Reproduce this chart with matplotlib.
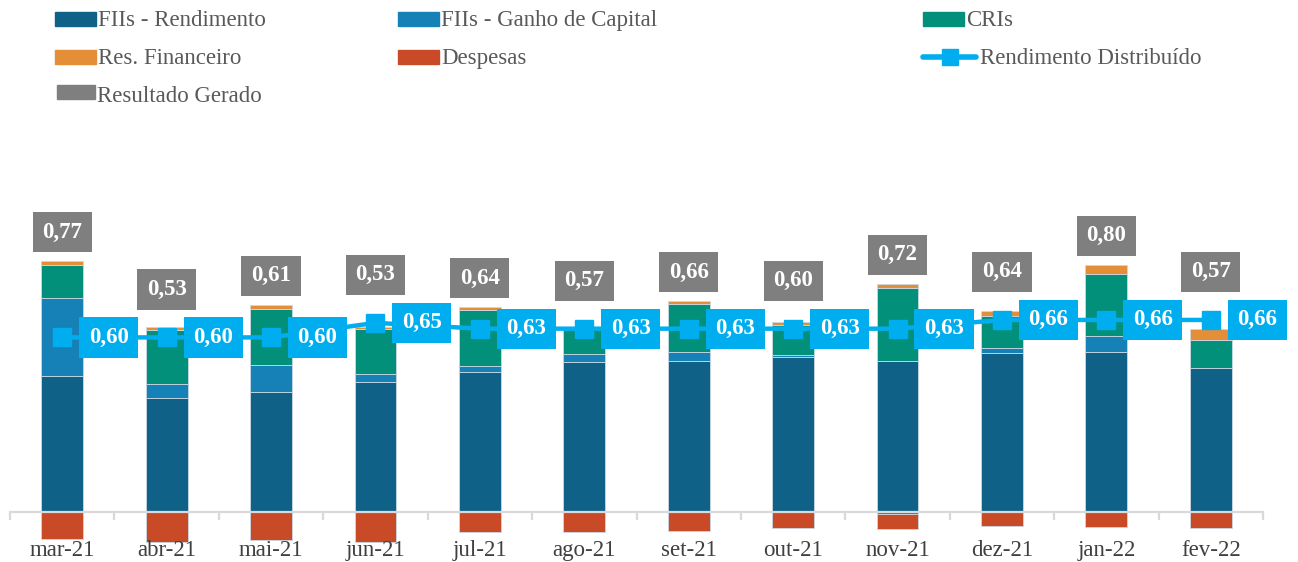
import matplotlib
matplotlib.use("Agg")
import matplotlib.pyplot as plt
import matplotlib.patches as mpatches
from matplotlib.lines import Line2D
import numpy as np

plt.rcParams["font.family"] = ["Liberation Serif", "DejaVu Serif"]

# ── data ─────────────────────────────────────────────────────
months = ["mar-21", "abr-21", "mai-21", "jun-21", "jul-21", "ago-21",
          "set-21", "out-21", "nov-21", "dez-21", "jan-22", "fev-22"]
fii_rend = [0.467, 0.393, 0.411, 0.448, 0.482, 0.516, 0.520, 0.532, 0.520, 0.545, 0.551, 0.494]
fii_ganho = [0.267, 0.047, 0.093, 0.025, 0.021, 0.027, 0.031, 0.008, -0.007, 0.017, 0.053, 0.0]
cris = [0.115, 0.186, 0.195, 0.155, 0.192, 0.085, 0.165, 0.101, 0.251, 0.111, 0.215, 0.098]
res_fin = [0.013, 0.010, 0.013, 0.007, 0.009, 0.005, 0.008, 0.012, 0.013, 0.018, 0.030, 0.036]
despesas = [-0.093, -0.102, -0.096, -0.102, -0.069, -0.069, -0.065, -0.054, -0.050, -0.048, -0.052, -0.054]
resultado = [0.77, 0.53, 0.61, 0.53, 0.64, 0.57, 0.66, 0.60, 0.72, 0.64, 0.80, 0.57]
rend_dist = [0.60, 0.60, 0.60, 0.65, 0.63, 0.63, 0.63, 0.63, 0.63, 0.66, 0.66, 0.66]

# ── styles ───────────────────────────────────────────────────
C_REND = "#0F6188"
C_GANHO = "#1581B6"
C_CRI = "#02907A"
C_FIN = "#E48F37"
C_DESP = "#C94A26"
C_GRAY = "#7F7F7F"
C_LINE = "#00AEEF"
C_TEXT = "#595959"

W, H = 1298, 562
fig = plt.figure(figsize=(W / 100, H / 100), dpi=100)
fig.patch.set_facecolor("white")

# axes placed in pixel terms: baseline ~512px, x from 10 to 1263
ax_left, ax_right, ax_top, ax_bot = 10, 1263, 180, 545
ax = fig.add_axes([ax_left / W, (H - ax_bot) / H,
                   (ax_right - ax_left) / W, (ax_bot - ax_top) / H])
ax.set_xlim(-0.5, len(months) - 0.5)
ax.set_ylim(-0.1134, 1.1409)
ax.set_axisbelow(False)

x = np.arange(len(months))
bw = 0.40
series = [(fii_rend, C_REND), (fii_ganho, C_GANHO), (cris, C_CRI),
          (res_fin, C_FIN), (despesas, C_DESP)]
pos_base = np.zeros(len(months))
neg_base = np.zeros(len(months))
for vals, col in series:
    v = np.array(vals)
    bottom = np.where(v >= 0, pos_base, neg_base)
    ax.bar(x, v, bw, bottom=bottom, color=col, edgecolor="#C9D8E3",
           linewidth=0.6, zorder=2)
    pos_base = pos_base + np.where(v >= 0, v, 0)
    neg_base = neg_base + np.where(v < 0, v, 0)

# rendimento distribuido line
rd = np.array(rend_dist)
ax.plot(x, rd, color=C_LINE, lw=3.2, marker="s", markersize=13,
        markerfacecolor=C_LINE, markeredgecolor=C_LINE, zorder=4)
for xi, v in zip(x, rd):
    ax.text(xi + 0.445, v, f"{v:.2f}".replace(".", ","), ha="center", va="center",
            fontsize=16.5, fontweight="bold", color="white", zorder=6,
            bbox=dict(boxstyle="square,pad=0.42", fc=C_LINE, ec="none"))

# resultado gerado labels
for xi, top, v, r in zip(x, pos_base, resultado, rd):
    ly = max(top + 0.10, r + 0.165)
    ax.text(xi, ly, f"{v:.2f}".replace(".", ","), ha="center", va="center",
            fontsize=16.5, fontweight="bold", color="white", zorder=5,
            bbox=dict(boxstyle="square,pad=0.42", fc=C_GRAY, ec="none"))

# axis styling
for s in ["left", "right", "top"]:
    ax.spines[s].set_visible(False)
ax.spines["bottom"].set_position(("data", 0))
ax.spines["bottom"].set_color("#D9D9D9")
ax.spines["bottom"].set_linewidth(1.6)
ax.spines["bottom"].set_zorder(3)
ax.xaxis.set_zorder(3)
ax.set_yticks([])
ax.set_xticks(x)
ax.set_xticklabels(months, fontsize=16.5, color="#404040")
ax.set_xticks(np.arange(-0.5, len(months)), minor=True)
ax.tick_params(axis="x", which="major", length=0, pad=20.5)
ax.tick_params(axis="x", which="minor", length=6, width=1.6, color="#D9D9D9",
               direction="out")


# ── legend (drawn manually in pixel coords) ─────────────────
def fx(px):
    return px / W


def fy(py):
    return 1 - py / H


legend_items = [
    ("FIIs - Rendimento", C_REND, 55, 19, "box"),
    ("FIIs - Ganho de Capital", C_GANHO, 398, 19, "box"),
    ("CRIs", C_CRI, 923, 19, "box"),
    ("Res. Financeiro", C_FIN, 55, 57, "box"),
    ("Despesas", C_DESP, 398, 57, "box"),
    ("Rendimento Distribuído", C_LINE, 923, 57, "line"),
    ("Resultado Gerado", C_GRAY, 57, 92, "gray"),
]
for label, col, hx, hy, kind in legend_items:
    if kind == "line":
        fig.add_artist(Line2D([fx(hx), fx(hx + 53)], [fy(hy), fy(hy)],
                              color=col, lw=4, solid_capstyle="round",
                              transform=fig.transFigure))
        fig.add_artist(Line2D([fx(hx + 26.5)], [fy(hy)], color=col, marker="s",
                              markersize=11, transform=fig.transFigure))
        tx = hx + 57
    else:
        hw = 41 if kind == "box" else 38
        fig.add_artist(mpatches.Rectangle((fx(hx), fy(hy + 7)), hw / W, 14 / H,
                                          color=col, transform=fig.transFigure))
        tx = hx + hw + 2
    ty = hy + (5 if kind == "gray" else 1.5)
    fig.text(fx(tx), fy(ty), label, ha="left", va="center", fontsize=16.5,
             color=C_TEXT)

plt.savefig("out.png", dpi=100, facecolor="white")
